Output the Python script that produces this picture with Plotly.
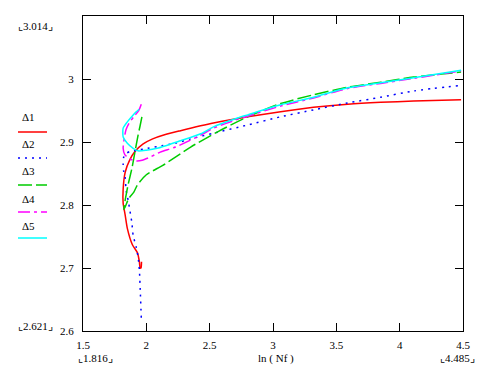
import plotly.graph_objects as go

# ---- data ----
names = ["Δ1", "Δ2", "Δ3", "Δ4", "Δ5"]

d1_x = [1.962, 1.958, 1.951, 1.945, 1.93, 1.89, 1.85, 1.833, 1.817, 1.817, 1.833, 1.87, 1.91, 1.975,
        2.05, 2.15, 2.27, 2.53, 2.80, 3.06, 3.32, 3.59, 3.85, 4.11, 4.485]
d1_y = [2.71, 2.70, 2.70, 2.71, 2.724, 2.737, 2.763, 2.784, 2.803, 2.825, 2.852, 2.872, 2.885, 2.897,
        2.905, 2.912, 2.918, 2.93, 2.94, 2.948, 2.955, 2.96, 2.963, 2.965, 2.967]

d2_x = [1.96, 1.952, 1.945, 1.935, 1.92, 1.896, 1.885, 1.872, 1.856, 1.84, 1.833, 1.82, 1.817, 1.82,
        1.835, 1.87, 1.93, 2.01, 2.12, 2.23, 2.35, 2.53, 2.80, 3.06, 3.32, 3.59, 3.85, 4.11, 4.485]
d2_y = [2.621, 2.665, 2.697, 2.717, 2.733, 2.752, 2.773, 2.789, 2.808, 2.824, 2.844, 2.855, 2.865, 2.875,
        2.881, 2.885, 2.887, 2.89, 2.894, 2.898, 2.905, 2.914, 2.927, 2.94, 2.951, 2.962, 2.971, 2.981, 2.99]

d3_x = [1.965, 1.95, 1.935, 1.91, 1.888, 1.856, 1.835, 1.822, 1.833, 1.86, 1.9, 1.93, 2.0, 2.13,
        2.35, 2.57, 2.80, 3.06, 3.32, 3.59, 3.85, 4.11, 4.485]
d3_y = [2.94, 2.925, 2.911, 2.884, 2.86, 2.832, 2.81, 2.793, 2.797, 2.81, 2.82, 2.832, 2.848, 2.863,
        2.892, 2.917, 2.94, 2.961, 2.975, 2.987, 2.995, 3.003, 3.011]

d4_x = [1.96, 1.94, 1.9, 1.864, 1.84, 1.825, 1.817, 1.83, 1.87, 1.92, 1.967, 2.03, 2.11, 2.23,
        2.43, 2.53, 2.72, 2.80, 3.06, 3.32, 3.59, 3.85, 4.11, 4.485]
d4_y = [2.96, 2.95, 2.94, 2.93, 2.92, 2.905, 2.89, 2.88, 2.873, 2.87, 2.871, 2.876, 2.884, 2.892,
        2.911, 2.922, 2.936, 2.941, 2.957, 2.97, 2.985, 2.993, 3.001, 3.013]

d5_x = [1.943, 1.92, 1.896, 1.85, 1.817, 1.817, 1.85, 1.896, 1.935, 2.0, 2.086, 2.27, 2.43, 2.53,
        2.72, 2.80, 3.06, 3.32, 3.59, 3.85, 4.11, 4.485]
d5_y = [2.952, 2.948, 2.943, 2.932, 2.922, 2.908, 2.898, 2.89, 2.886, 2.887, 2.89, 2.902, 2.913, 2.924,
        2.938, 2.943, 2.959, 2.971, 2.986, 2.994, 3.002, 3.014]

colors = ["#ff0000", "#0000ff", "#00cc00", "#ff00ff", "#00ffff"]
dashes = ["solid", "2px,5px", "14px,4px", "12px,4px,3px,4px", "solid"]

x_ticks = [1.5, 2, 2.5, 3, 3.5, 4, 4.5]
x_ticktext = ["1.5", "2", "2.5", "3", "3.5", "4", "4.5"]
y_ticks = [2.6, 2.7, 2.8, 2.9, 3.0]
y_ticktext = ["2.6", "2.7", "2.8", "2.9", "3"]

x_title = "ln ( Nf )"
x_min_lbl, x_max_lbl = "1.816", "4.485"
y_min_lbl, y_max_lbl = "2.621", "3.014"

# ---- figure ----
W, H = 491, 370
L, R, T, B = 83, 463, 16, 331


def px(xp):
    return (xp - L) / (R - L)


def py(yp):
    return (B - yp) / (B - T)


FONT = "Liberation Serif"

fig = go.Figure()
series = [(d1_x, d1_y), (d2_x, d2_y), (d3_x, d3_y), (d4_x, d4_y), (d5_x, d5_y)]
for (xs, ys), nm, c, d in zip(series, names, colors, dashes):
    fig.add_trace(go.Scatter(x=xs, y=ys, mode="lines", name=nm,
                             line=dict(color=c, width=1.5, dash=d, shape="spline", smoothing=0.6)))

axis_common = dict(showline=True, linecolor="black", linewidth=1, mirror="allticks",
                   ticks="inside", ticklen=8, tickcolor="black", tickwidth=1,
                   showgrid=False, zeroline=False,
                   tickfont=dict(family=FONT, size=11, color="black"))

fig.update_layout(
    width=W, height=H,
    margin=dict(l=L, r=W - R, t=T, b=H - B),
    paper_bgcolor="white", plot_bgcolor="white",
    showlegend=False,
    font=dict(family=FONT, size=11, color="black"),
    xaxis=dict(range=[1.5, 4.5], tickvals=x_ticks, ticktext=x_ticktext, ticklabelstandoff=4,
               **axis_common),
    yaxis=dict(range=[2.6, 3.1], tickvals=y_ticks, ticktext=y_ticktext, ticklabelstandoff=6,
               **axis_common),
)

ann_font = dict(family=FONT, size=11, color="black")
anns = [
    (35, 26, "⌞" + y_max_lbl + "⌟"),
    (35, 326, "⌞" + y_min_lbl + "⌟"),
    (95, 358, "⌞" + x_min_lbl + "⌟"),
    (457, 358, "⌞" + x_max_lbl + "⌟"),
    (276, 358, x_title),
]
for xp, yp, t in anns:
    fig.add_annotation(x=px(xp), y=py(yp), xref="paper", yref="paper", text=t, showarrow=False,
                       xanchor="center", yanchor="middle", font=ann_font)

# legend (text above line sample, as in the reference)
leg_text_y = [117, 144, 171, 199, 226]
leg_line_y = [132, 158, 185, 212, 238]
for nm, c, d, ty, ly in zip(names, colors, dashes, leg_text_y, leg_line_y):
    fig.add_annotation(x=px(20), y=py(ty), xref="paper", yref="paper", text=nm, showarrow=False,
                       xanchor="left", yanchor="middle", font=ann_font)
    fig.add_shape(type="line", xref="paper", yref="paper", x0=px(18), x1=px(47), y0=py(ly), y1=py(ly),
                  line=dict(color=c, width=1.5, dash=d))

fig.write_html("out.html")
